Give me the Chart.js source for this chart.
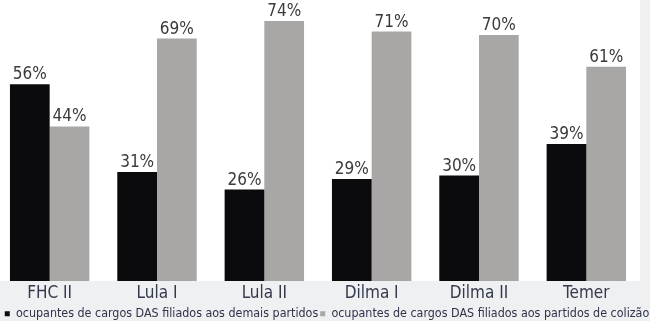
<!DOCTYPE html>
<html>
<head>
<meta charset="utf-8">
<script src="https://cdn.jsdelivr.net/npm/chart.js"></script>
<style>
  html, body { margin: 0; padding: 0; background: #eff0f2; overflow: hidden; }
  #wrap { position: absolute; left: -4px; top: 0; width: 662px; height: 330px; }
</style>
</head>
<body>
<div id="wrap"><canvas id="dasChart" width="662" height="330"></canvas></div>
<script>
const governos = ["FHC II", "Lula I", "Lula II", "Dilma I", "Dilma II", "Temer"];
const demaisPartidos = [56, 31, 26, 29, 30, 39];
const partidosColizao = [44, 69, 74, 71, 70, 61];
const legendaDemais = "ocupantes de cargos DAS filiados aos demais partidos";
const legendaColizao = "ocupantes de cargos DAS filiados aos partidos de colizão";

const condensed = "'DejaVu Sans Condensed', 'Liberation Sans', sans-serif";

// white plot background, gray around it
const plotBackground = {
    id: "plotBackground",
    beforeDraw(chart) {
        const { ctx, chartArea } = chart;
        ctx.save();
        ctx.fillStyle = "#ffffff";
        ctx.fillRect(chartArea.left, chartArea.top, chartArea.right - chartArea.left, chartArea.bottom - chartArea.top);
        ctx.restore();
    }
};

// percent labels over each bar
const barValues = {
    id: "barValues",
    afterDatasetsDraw(chart) {
        const ctx = chart.ctx;
        ctx.save();
        ctx.font = "17px " + condensed;
        ctx.fillStyle = "#3a3a3c";
        ctx.textAlign = "center";
        ctx.textBaseline = "alphabetic";
        chart.data.datasets.forEach((ds, i) => {
            chart.getDatasetMeta(i).data.forEach((bar, j) => {
                ctx.fillText(ds.data[j] + "%", bar.x, bar.y - 5);
            });
        });
        ctx.restore();
    }
};

new Chart(document.getElementById("dasChart"), {
    type: "bar",
    data: {
        labels: governos,
        datasets: [
            { label: legendaDemais, data: demaisPartidos, backgroundColor: "#0b0a0d" },
            { label: legendaColizao, data: partidosColizao, backgroundColor: "#a8a7a6" }
        ]
    },
    options: {
        responsive: false,
        animation: false,
        devicePixelRatio: 1,
        categoryPercentage: 0.74,
        barPercentage: 1.0,
        layout: { padding: 0 },
        scales: {
            x: {
                grid: { display: false, drawTicks: false },
                border: { display: false },
                ticks: {
                    color: "#343a4c",
                    padding: 3,
                    font: { family: condensed, size: 17, lineHeight: 1.1 }
                }
            },
            y: {
                position: "right",
                min: 0,
                max: 80,
                grid: { display: false, drawTicks: false },
                border: { display: false },
                ticks: { display: false },
                afterFit(scale) { scale.width = 18; }
            }
        },
        plugins: {
            legend: {
                position: "bottom",
                labels: {
                    boxWidth: 5,
                    boxHeight: 5,
                    padding: 2,
                    color: "#2e3448",
                    font: { family: condensed, size: 12.4 }
                }
            },
            tooltip: { enabled: false }
        }
    },
    plugins: [plotBackground, barValues]
});
</script>
</body>
</html>
